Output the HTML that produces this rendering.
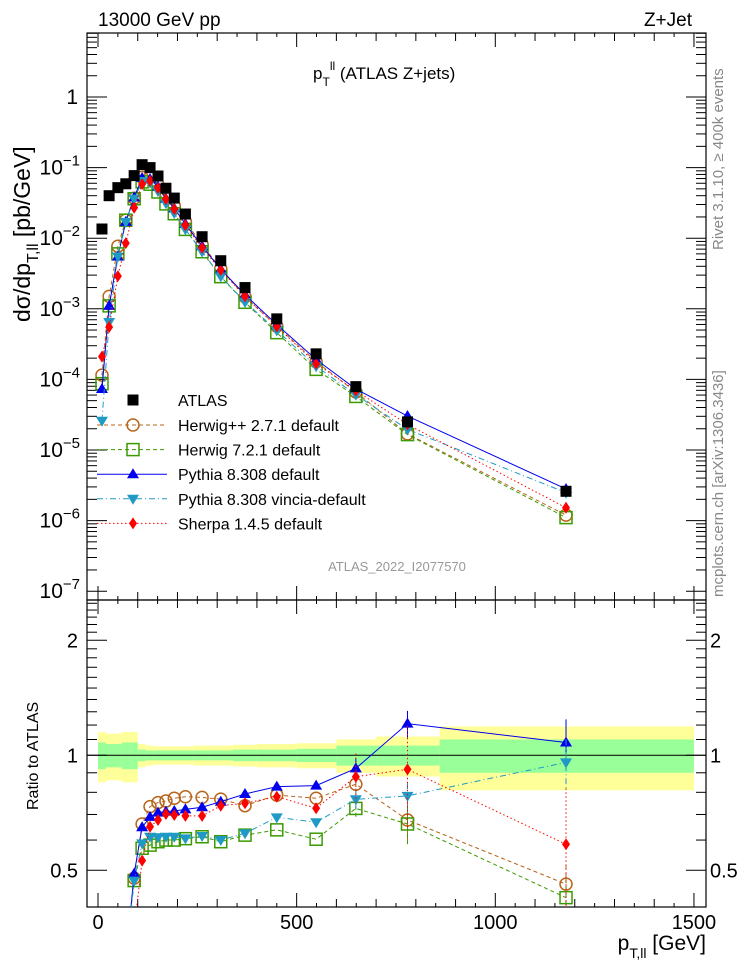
<!DOCTYPE html>
<html><head><meta charset="utf-8">
<style>
html,body{margin:0;padding:0;background:#fff;overflow:hidden;width:746px;height:972px;}
svg{display:block;font-family:"Liberation Sans","DejaVu Sans",sans-serif;}
</style></head>
<body>
<svg id="chart" width="746" height="972" viewBox="0 0 746 972" xmlns="http://www.w3.org/2000/svg">
<defs>
<clipPath id="clipMain"><rect x="87" y="33" width="619" height="567"/></clipPath>
<clipPath id="clipRatio"><rect x="87" y="600" width="619" height="307"/></clipPath>
</defs>
<g id="bands" clip-path="url(#clipRatio)"></g>
<g id="marks"></g>
<text x="98" y="26" font-size="19">13000 GeV pp</text>
<text x="692" y="26" font-size="19" text-anchor="end">Z+Jet</text>
<text x="313" y="79" font-size="17">p<tspan font-size="12" dy="7">T</tspan><tspan font-size="12" dy="-16">ll</tspan><tspan dy="9"> (ATLAS Z+jets)</tspan></text>
<text x="397" y="571" font-size="13" fill="#999" text-anchor="middle">ATLAS_2022_I2077570</text>
<text transform="translate(723,250) rotate(-90)" font-size="15" fill="#888">Rivet 3.1.10, ≥ 400k events</text>
<text transform="translate(723,597) rotate(-90)" font-size="15" fill="#888">mcplots.cern.ch [arXiv:1306.3436]</text>
<text transform="translate(30,322) rotate(-90)" font-size="23">dσ/dp<tspan font-size="16" dy="8">T,ll</tspan><tspan dy="-8"> [pb/GeV]</tspan></text>
<text transform="translate(38,810) rotate(-90)" font-size="16">Ratio to ATLAS</text>
<text x="706" y="950" font-size="21" text-anchor="end">p<tspan font-size="14" dy="8">T,ll</tspan><tspan dy="-8"> [GeV]</tspan></text>
</svg>
<script>
// ---- data ----
const xBins = [10, 28, 50, 70, 91, 111, 131, 151, 171, 192, 220, 262, 309, 370, 450, 549, 649, 779, 1178];
const atlasValues = [0.0135, 0.040, 0.052, 0.059, 0.077, 0.110, 0.100, 0.076, 0.051, 0.037, 0.022, 0.0105, 0.0048, 0.0020, 7.2e-4, 2.3e-4, 7.9e-5, 2.5e-5, 2.6e-6];
const lowX = [10, 28, 50, 70];
const herwigppLow = [1.15e-4, 1.5e-3, 7.7e-3, 0.018];
const herwig7Low = [8.7e-5, 1.1e-3, 6.0e-3, 0.018];
const pythiaLow = [7.3e-5, 1.1e-3, 5.5e-3, 0.017];
const vinciaLow = [2.6e-5, 6.5e-4, 5.5e-3, 0.017];
const sherpaLow = [2.1e-4, 5.5e-4, 2.9e-3, 8.5e-3];
const herwigppRatio = [0.477, 0.661, 0.734, 0.752, 0.759, 0.772, 0.779, 0.776, 0.768, 0.738, 0.787, 0.772, 0.84, 0.677, 0.46];
const herwig7Ratio = [0.47, 0.571, 0.582, 0.594, 0.60, 0.60, 0.605, 0.612, 0.594, 0.618, 0.638, 0.603, 0.726, 0.661, 0.424];
const pythiaRatio = [0.49, 0.648, 0.69, 0.708, 0.712, 0.715, 0.722, 0.731, 0.756, 0.792, 0.828, 0.833, 0.924, 1.21, 1.08];
const vinciaRatio = [0.47, 0.588, 0.612, 0.61, 0.612, 0.612, 0.606, 0.615, 0.60, 0.625, 0.688, 0.668, 0.767, 0.783, 0.958];
const sherpaRatio = [0.35, 0.53, 0.65, 0.677, 0.702, 0.698, 0.694, 0.694, 0.738, 0.749, 0.779, 0.727, 0.879, 0.919, 0.585];
// relative MC stat errors for the last three ratio points
const herwigppErr = [0.06, 0.12, 0.12];
const herwig7Err = [0.06, 0.12, 0.12];
const pythiaErr = [0.06, 0.08, 0.15];
const vinciaErr = [0.06, 0.08, 0.15];
const sherpaErr = [0.15, 0.3, 0.4];
const bandEdges = [0, 20, 40, 60, 80, 100, 120, 140, 160, 180, 200, 240, 280, 340, 400, 500, 600, 700, 860, 1500];
const bandTotal = [0.15, 0.14, 0.14, 0.15, 0.15, 0.07, 0.06, 0.055, 0.055, 0.055, 0.055, 0.06, 0.06, 0.065, 0.07, 0.075, 0.10, 0.12, 0.19];
const bandStat = [0.08, 0.07, 0.07, 0.08, 0.08, 0.035, 0.03, 0.03, 0.03, 0.03, 0.03, 0.03, 0.03, 0.035, 0.035, 0.04, 0.06, 0.06, 0.10];
const mainYTicks = ["1", "10^-1", "10^-2", "10^-3", "10^-4", "10^-5", "10^-6", "10^-7"];
const xTickLabels = [0, 500, 1000, 1500];
const ratioTickLabels = [0.5, 1, 2];

// ---- axes ----
const NS = "http://www.w3.org/2000/svg";
const L = 87, R = 706, MT = 33, MB = 600, RT = 600, RB = 907;
const px = x => 98 + x * 0.3973;
const py = v => 97 - 70.6 * Math.log10(v);
const ry = r => 755.3 - 115 * Math.log2(r);
const svg = document.getElementById('chart');
const bands = document.getElementById('bands');
const marks = document.getElementById('marks');
function mk(tag, attrs, parent) {
  const e = document.createElementNS(NS, tag);
  for (const k in attrs) e.setAttribute(k, attrs[k]);
  (parent || marks).appendChild(e);
  return e;
}
for (let i = 0; i < bandTotal.length; i++) {
  const x0 = px(bandEdges[i]), x1 = px(bandEdges[i + 1]);
  const y = mk('rect', {x: x0, y: ry(1 + bandTotal[i]), width: x1 - x0, height: ry(1 - bandTotal[i]) - ry(1 + bandTotal[i]), fill: '#ffff99'}, bands);
  
  
}
for (let i = 0; i < bandStat.length; i++) {
  const x0 = px(bandEdges[i]), x1 = px(bandEdges[i + 1]);
  const g = mk('rect', {x: x0, y: ry(1 + bandStat[i]), width: x1 - x0, height: ry(1 - bandStat[i]) - ry(1 + bandStat[i]), fill: '#99ff99'}, bands);
  
  
}
const one = mk('line', {x1: L, x2: R, y1: ry(1), y2: ry(1), stroke: '#000', 'stroke-width': 1});



const f1 = mk('rect', {x: L, y: MT, width: R - L, height: MB - MT, fill: 'none', stroke: '#000', 'stroke-width': 1.2});


const f2 = mk('rect', {x: L, y: RT, width: R - L, height: RB - RT, fill: 'none', stroke: '#000', 'stroke-width': 1.2});



function tick(x1, y1, x2, y2) { mk('line', {x1, y1, x2, y2, stroke: '#000', 'stroke-width': 1}); }
for (let x = 0; x <= 1500; x += 50) {
  const len = x % 500 === 0 ? 14 : (x % 100 === 0 ? 8 : 4);
  tick(px(x), MB, px(x), MB - len); tick(px(x), MT, px(x), MT + len);
  tick(px(x), RB, px(x), RB - len); tick(px(x), RT, px(x), RT + len);
}
for (let d = -7; d <= 1; d++) {
  for (let m = 1; m <= 9; m++) {
    const v = m * Math.pow(10, d); const y = py(v);
    if (y < MT || y > MB) continue;
    const len = m === 1 ? 20 : 10;
    tick(L, y, L + len, y); tick(R, y, R - len, y);
  }
}
mainYTicks.forEach((lab, i) => {
  const y = py(Math.pow(10, -i));
  const t = mk('text', {x: 80, y: y + 7, 'font-size': 21, 'text-anchor': 'end'});
  
  
  if (lab === "1") { t.textContent = "1"; t.setAttribute('x', 78); }
  else {
    t.textContent = "10";
    const s = document.createElementNS(NS, 'tspan');
    s.setAttribute('dy', -9); s.setAttribute('font-size', 15);
    s.textContent = lab.slice(3).replace('-', '−');
    t.appendChild(s);
  }
});
for (let r = 0.4; r <= 2.55; r += 0.1) {
  const rr = Math.round(r * 10) / 10; const y = ry(rr);
  if (y < RT || y > RB) continue;
  const len = (rr === 0.5 || rr === 1 || rr === 2) ? 20 : 10;
  tick(L, y, L + len, y); tick(R, y, R - len, y);
}
ratioTickLabels.forEach(r => {
  const a = mk('text', {x: 78, y: ry(r) + 7, 'font-size': 20, 'text-anchor': 'end'}); a.textContent = String(r);
  
  
  const b = mk('text', {x: 710, y: ry(r) + 7, 'font-size': 20}); b.textContent = String(r);
  
  
});
xTickLabels.forEach(x => {
  const t = mk('text', {x: px(x), y: 929, 'font-size': 20, 'text-anchor': 'middle'}); t.textContent = String(x);
  
  
});

function marker(type, x, y, color, parent) {
  let e;
  if (type === 'square') e = mk('rect', {x: x - 5.5, y: y - 5.5, width: 11, height: 11, fill: color}, parent);
  else if (type === 'osquare') e = mk('rect', {x: x - 6, y: y - 6, width: 12, height: 12, fill: 'none', stroke: color, 'stroke-width': 1.5}, parent);
  else if (type === 'circle') e = mk('circle', {cx: x, cy: y, r: 6, fill: 'none', stroke: color, 'stroke-width': 1.5}, parent);
  else if (type === 'tri') e = mk('polygon', {points: `${x},${y - 6} ${x - 6},${y + 4} ${x + 6},${y + 4}`, fill: color}, parent);
  else if (type === 'itri') e = mk('polygon', {points: `${x},${y + 6} ${x - 6},${y - 4} ${x + 6},${y - 4}`, fill: color}, parent);
  else e = mk('polygon', {points: `${x},${y - 6} ${x - 4},${y} ${x},${y + 6} ${x + 4},${y}`, fill: color}, parent);
  return e;
}
const series = [
  {name: 'herwigpp', label: 'Herwig++ 2.7.1 default', low: herwigppLow, ratio: herwigppRatio, err: herwigppErr, color: '#b8651b', dash: '4,3', mk: 'circle'},
  {name: 'herwig7', label: 'Herwig 7.2.1 default', low: herwig7Low, ratio: herwig7Ratio, err: herwig7Err, color: '#3a9a00', dash: '4,3', mk: 'osquare'},
  {name: 'pythia', label: 'Pythia 8.308 default', low: pythiaLow, ratio: pythiaRatio, err: pythiaErr, color: '#0000ee', dash: '', mk: 'tri'},
  {name: 'vincia', label: 'Pythia 8.308 vincia-default', low: vinciaLow, ratio: vinciaRatio, err: vinciaErr, color: '#1f9ac4', dash: '6,3,1,3', mk: 'itri'},
  {name: 'sherpa', label: 'Sherpa 1.4.5 default', low: sherpaLow, ratio: sherpaRatio, err: sherpaErr, color: '#ff0000', dash: '1.5,2.5', mk: 'diamond'}
];
const ratioX = xBins.slice(lowX.length);
series.forEach(s => {
  const vals = s.low.concat(s.ratio.map((r, i) => r * atlasValues[i + lowX.length]));
  const gm = mk('g', {'clip-path': 'url(#clipMain)'});
  
  
  const pl = mk('polyline', {points: xBins.map((x, i) => px(x) + ',' + py(vals[i])).join(' '), fill: 'none', stroke: s.color, 'stroke-width': 1, 'stroke-dasharray': s.dash}, gm);
  
  
  xBins.forEach((x, i) => {
    const m = marker(s.mk, px(x), py(vals[i]), s.color, gm);
    
    
  });
  const gr = mk('g', {'clip-path': 'url(#clipRatio)'});
  
  
  const rx = [lowX[3]].concat(ratioX);
  const rv = [s.low[3] / atlasValues[3]].concat(s.ratio);
  const rl = mk('polyline', {points: rx.map((x, i) => px(x) + ',' + ry(rv[i])).join(' '), fill: 'none', stroke: s.color, 'stroke-width': 1, 'stroke-dasharray': s.dash}, gr);
  
  
  s.err.forEach((e, j) => {
    const i = s.ratio.length - s.err.length + j;
    const x = px(ratioX[i]), r = s.ratio[i];
    const eb = mk('line', {x1: x, x2: x, y1: ry(r * (1 + e)), y2: ry(Math.max(0.05, r * (1 - e))), stroke: s.color, 'stroke-width': 1, 'stroke-dasharray': s.dash}, gr);
    
    
  });
  ratioX.forEach((x, i) => {
    const m = marker(s.mk, px(x), ry(s.ratio[i]), s.color, gr);
    
    
  });
});
xBins.forEach((x, i) => {
  const m = marker('square', px(x), py(atlasValues[i]), '#000');
  
  
});
const lg = mk('g', {});


const le0 = marker('square', 133, 400, '#000', lg);


const lt0 = mk('text', {x: 178, y: 406, 'font-size': 16}, lg); lt0.textContent = 'ATLAS';


series.forEach((s, i) => {
  const y = 425 + i * 24.6;
  const ln = mk('line', {x1: 97, x2: 167, y1: y, y2: y, stroke: s.color, 'stroke-width': 1, 'stroke-dasharray': s.dash}, lg);
  
  
  const m = marker(s.mk, 133, y, s.color, lg);
  
  
  const t = mk('text', {x: 178, y: y + 6, 'font-size': 16}, lg); t.textContent = s.label;
  
  
});
</script>
</body></html>
